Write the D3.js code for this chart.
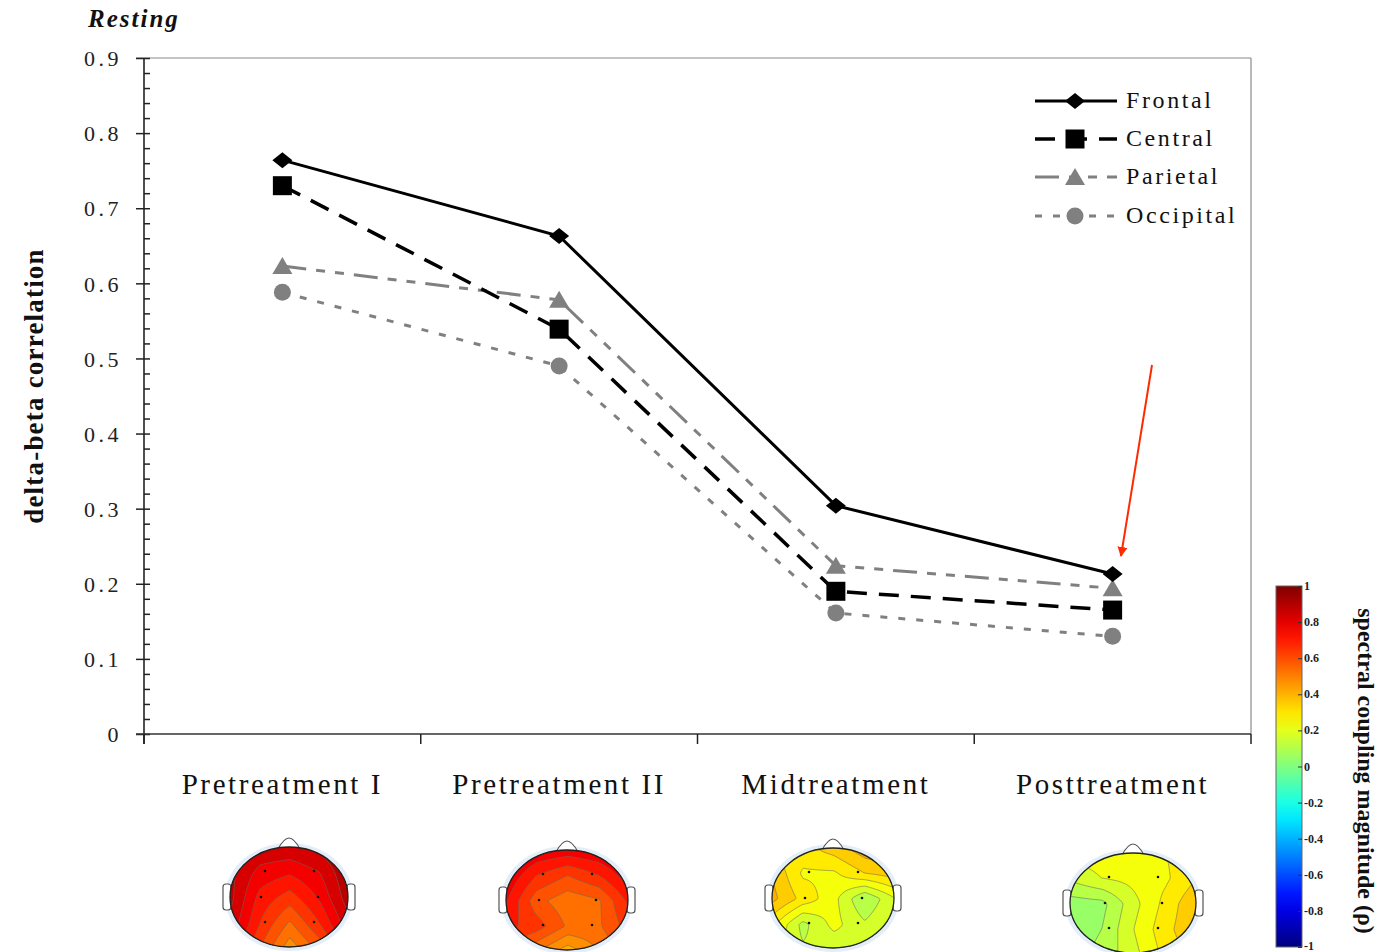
<!DOCTYPE html>
<html><head><meta charset="utf-8">
<script src="https://cdn.jsdelivr.net/npm/d3@7"></script>
<style>body{margin:0;background:#fff}svg{display:block}</style>
</head><body>
<svg id="c" width="1387" height="952"></svg>
<script>
const categories = ["Pretreatment I","Pretreatment II","Midtreatment","Posttreatment"];
const frontal   = [0.764,0.663,0.304,0.213];
const central   = [0.730,0.539,0.190,0.165];
const parietal  = [0.623,0.578,0.224,0.194];
const occipital = [0.588,0.490,0.161,0.130];
const seriesNames = ["Frontal","Central","Parietal","Occipital"];
const yTicks = [0,0.1,0.2,0.3,0.4,0.5,0.6,0.7,0.8,0.9];
const yMinorTicks = d3.range(0,0.9001,0.02);
const colorbarTicks = [1,0.8,0.6,0.4,0.2,0,-0.2,-0.4,-0.6,-0.8,-1];
// 5x5 topographic value grids (rows front->back, cols left->right)
const headPre1 = [[0.90,0.85,0.85,0.88,0.95],[0.88,0.78,0.75,0.80,0.92],[0.88,0.72,0.65,0.75,0.90],[0.85,0.68,0.55,0.68,0.85],[0.80,0.62,0.46,0.58,0.78]];
const headPre2 = [[0.85,0.80,0.78,0.80,0.85],[0.80,0.68,0.62,0.68,0.78],[0.75,0.58,0.52,0.55,0.70],[0.70,0.65,0.55,0.55,0.65],[0.62,0.50,0.40,0.50,0.60]];
const headMid  = [[0.28,0.30,0.35,0.42,0.45],[0.38,0.25,0.25,0.32,0.35],[0.40,0.30,0.22,0.08,0.20],[0.28,0.12,0.22,0.15,0.22],[0.20,0.15,0.15,0.20,0.25]];
const headPost = [[0.22,0.24,0.24,0.26,0.30],[0.15,0.20,0.22,0.25,0.32],[0.05,0.06,0.18,0.28,0.38],[0.04,0.08,0.20,0.30,0.38],[0.05,0.10,0.18,0.28,0.35]];
const headMaps = [headPre1,headPre2,headMid,headPost];

const svg = d3.select("#c");
const serif = "'Liberation Serif','DejaVu Serif',serif";
const x = d3.scaleBand().domain(categories).range([144,1251]);
const y = d3.scaleLinear().domain([0,0.9]).range([734,58]);

// frame
svg.append("line").attr("x1",136).attr("x2",1251).attr("y1",58).attr("y2",58).attr("stroke","#8a8a8a").attr("stroke-width",1.2);
svg.append("line").attr("x1",1251).attr("x2",1251).attr("y1",58).attr("y2",734).attr("stroke","#8a8a8a").attr("stroke-width",1.2);

// y axis
const yAxisG = svg.append("g").attr("transform","translate(144,0)")
  .call(d3.axisLeft(y).tickValues(yTicks).tickSize(8).tickPadding(14).tickFormat(d=>d===0?"0":d.toFixed(1)));
yAxisG.select(".domain").remove();
yAxisG.selectAll(".tick line").attr("stroke","#222").attr("stroke-width",1.5);
yAxisG.selectAll("text").attr("font-family",serif).attr("font-size",22).attr("fill","#222").attr("letter-spacing","3.5px").attr("dy","0.35em");
const yMinorG = svg.append("g").attr("transform","translate(144,0)")
  .call(d3.axisRight(y).tickValues(yMinorTicks).tickSize(6).tickFormat(""));
yMinorG.select(".domain").remove();
yMinorG.selectAll(".tick line").attr("stroke","#222").attr("stroke-width",1.5);
svg.append("line").attr("x1",144).attr("x2",144).attr("y1",58).attr("y2",744).attr("stroke","#222").attr("stroke-width",1.6);

// x axis
svg.append("line").attr("x1",136).attr("x2",1251).attr("y1",734).attr("y2",734).attr("stroke","#333").attr("stroke-width",1.6);
const bounds = categories.map(c=>x(c)).concat([x.range()[1]]);
svg.append("g").selectAll("line").data(bounds).join("line")
  .attr("x1",d=>d).attr("x2",d=>d).attr("y1",734).attr("y2",744).attr("stroke","#222").attr("stroke-width",1.5);
svg.append("g").selectAll("text").data(categories).join("text")
  .attr("x",d=>x(d)+x.bandwidth()/2).attr("y",794).attr("text-anchor","middle")
  .attr("font-family",serif).attr("font-size",29).attr("letter-spacing","2.6px").attr("fill","#111").text(d=>d);

// titles
svg.append("text").attr("x",88).attr("y",27).attr("font-family",serif).attr("font-size",25)
  .attr("font-weight","bold").attr("font-style","italic").attr("letter-spacing","2px").attr("fill","#111").text("Resting");
svg.append("text").attr("transform","translate(43,386) rotate(-90)").attr("text-anchor","middle")
  .attr("font-family",serif).attr("font-size",27).attr("font-weight","bold").attr("letter-spacing","1.2px").attr("fill","#111").text("delta-beta correlation");

// series
const seriesData = [frontal,central,parietal,occipital];
const styles = [
  {color:"#000",dash:null,width:3,marker:"diamond"},
  {color:"#000",dash:"20,12",width:3.5,marker:"square"},
  {color:"#808080",dash:"24,10,9,10,9,10",width:3,marker:"triangle"},
  {color:"#808080",dash:"7,11",width:3,marker:"circle"}
];
function markerPath(type,cx,cy){
  if(type==="diamond") return `M${cx-10},${cy} L${cx},${cy-8} L${cx+10},${cy} L${cx},${cy+8} Z`;
  if(type==="square") return `M${cx-9.5},${cy-9.5} h19 v19 h-19 Z`;
  return `M${cx-10},${cy+8} L${cx},${cy-9} L${cx+10},${cy+8} Z`;
}
function drawMarker(g,type,cx,cy,color){
  if(type==="circle") g.append("circle").attr("cx",cx).attr("cy",cy).attr("r",8.5).attr("fill",color);
  else g.append("path").attr("d",markerPath(type,cx,cy)).attr("fill",color);
}
const line = d3.line().x((d,i)=>x(categories[i])+x.bandwidth()/2).y(d=>y(d));
[3,2,1,0].forEach(k=>{
  const st = styles[k];
  svg.append("path").datum(seriesData[k]).attr("d",line).attr("fill","none")
    .attr("stroke",st.color).attr("stroke-width",st.width).attr("stroke-dasharray",st.dash);
});
[3,2,1,0].forEach(k=>{
  const st = styles[k];
  const g = svg.append("g");
  seriesData[k].forEach((v,i)=>drawMarker(g,st.marker,x(categories[i])+x.bandwidth()/2,y(v),st.color));
});

// legend
const legY = [101,139,177,216];
seriesNames.forEach((n,k)=>{
  const st = styles[k];
  const g = svg.append("g");
  g.append("line").attr("x1",1035).attr("x2",1117).attr("y1",legY[k]).attr("y2",legY[k])
    .attr("stroke",st.color).attr("stroke-width",st.width).attr("stroke-dasharray",st.dash);
  drawMarker(g,st.marker,1075,legY[k],st.color);
  g.append("text").attr("x",1126).attr("y",legY[k]+7).attr("font-family",serif).attr("font-size",24)
    .attr("letter-spacing","2.6px").attr("fill","#111").text(n);
});

// red arrow
svg.append("defs").append("marker").attr("id","ah").attr("viewBox","0 0 10 10").attr("refX",9).attr("refY",5)
  .attr("markerWidth",5).attr("markerHeight",5).attr("orient","auto")
  .append("path").attr("d","M0,0 L10,5 L0,10 Z").attr("fill","#ff2a00");
svg.append("line").attr("x1",1152).attr("y1",365).attr("x2",1121).attr("y2",556)
  .attr("stroke","#ff2a00").attr("stroke-width",2).attr("marker-end","url(#ah)");

// jet colormap
function jet(v){
  const t=(v+1)/2, cl=a=>Math.max(0,Math.min(1,a));
  return d3.rgb(255*cl(1.5-Math.abs(4*t-3)),255*cl(1.5-Math.abs(4*t-2)),255*cl(1.5-Math.abs(4*t-1))).toString();
}

// colorbar
const cbY = d3.scaleLinear().domain([1,-1]).range([586,947]);
const grad = svg.select("defs").append("linearGradient").attr("id","cbg").attr("x1",0).attr("x2",0).attr("y1",0).attr("y2",1);
d3.range(0,1.0001,0.05).forEach(o=>grad.append("stop").attr("offset",o).attr("stop-color",jet(1-2*o)));
svg.append("rect").attr("x",1276).attr("y",586).attr("width",26).attr("height",361).attr("fill","url(#cbg)").attr("stroke","#666").attr("stroke-width",1);
const cbG = svg.append("g").attr("transform","translate(1302,0)")
  .call(d3.axisLeft(cbY).tickValues(colorbarTicks).tickSize(4).tickFormat(""));
cbG.select(".domain").remove();
cbG.selectAll(".tick line").attr("stroke","#333");
svg.append("g").selectAll("text").data(colorbarTicks).join("text")
  .attr("x",1304).attr("y",d=>Math.min(cbY(d)+4,950)).attr("font-family",serif).attr("font-size",12).attr("font-weight","bold")
  .attr("fill","#222").text(d=>d===0?"0":(d===1||d===-1)?String(d):d.toFixed(1));
svg.append("text").attr("transform","translate(1358,771) rotate(90)").attr("text-anchor","middle")
  .attr("font-family",serif).attr("font-size",24).attr("font-weight","bold").attr("fill","#111")
  .text("spectral coupling magnitude (ρ)");

// head maps
const heads = [{cx:289,cy:897,rx:59,ry:50},{cx:567,cy:900,rx:61,ry:50},{cx:833,cy:898,rx:61,ry:50},{cx:1133,cy:903,rx:63,ry:50}];
const W=80,H=66;
const defs = svg.select("defs");
headMaps.forEach((grid,hi)=>{
  const h = heads[hi];
  const vals = new Array(W*H);
  for(let j=0;j<H;j++) for(let i=0;i<W;i++){
    const gx=i/(W-1)*4, gy=j/(H-1)*4;
    const i0=Math.min(3,Math.floor(gx)), j0=Math.min(3,Math.floor(gy));
    const fx=gx-i0, fy=gy-j0;
    const a = grid[j0][i0]*(1-fx)+grid[j0][i0+1]*fx;
    const b = grid[j0+1][i0]*(1-fx)+grid[j0+1][i0+1]*fx;
    vals[j*W+i] = a*(1-fy)+b*fy;
  }
  const step=0.06;
  const th = d3.range(-1,1.0001,step);
  const contours = d3.contours().size([W,H]).thresholds(th)(vals);
  const g = svg.append("g");
  g.append("ellipse").attr("cx",h.cx).attr("cy",h.cy).attr("rx",h.rx+5).attr("ry",h.ry+4).attr("fill","#e4eef9");
  [-1,1].forEach(s=>{
    g.append("rect").attr("x",s<0?h.cx-h.rx-7:h.cx+h.rx-1).attr("y",h.cy-13).attr("width",8).attr("height",26)
      .attr("rx",3).attr("fill","#fff").attr("stroke","#555").attr("stroke-width",1.2);
  });
  g.append("path").attr("d",`M${h.cx-11},${h.cy-h.ry+2} Q${h.cx-5},${h.cy-h.ry-9} ${h.cx},${h.cy-h.ry-9} Q${h.cx+5},${h.cy-h.ry-9} ${h.cx+11},${h.cy-h.ry+2}`)
    .attr("fill","#fff").attr("stroke","#555").attr("stroke-width",1.2);
  defs.append("clipPath").attr("id","hc"+hi).append("ellipse").attr("cx",h.cx).attr("cy",h.cy).attr("rx",h.rx).attr("ry",h.ry);
  const mg = g.append("g").attr("clip-path",`url(#hc${hi})`)
    .append("g").attr("transform",`translate(${h.cx-h.rx-1},${h.cy-h.ry-1}) scale(${(2*h.rx+2)/(W-1)},${(2*h.ry+2)/(H-1)})`);
  mg.selectAll("path").data(contours.filter(c=>c.coordinates.length)).join("path")
    .attr("d",d3.geoPath()).attr("fill",d=>jet(d.value+step/2))
    .attr("stroke","#6a6a5a").attr("stroke-width",0.7).attr("stroke-opacity",0.8).attr("vector-effect","non-scaling-stroke");
  g.append("ellipse").attr("cx",h.cx).attr("cy",h.cy).attr("rx",h.rx).attr("ry",h.ry).attr("fill","none").attr("stroke","#222").attr("stroke-width",1.3);
  [[-24,-26],[25,-26],[-28,0],[29,0],[-24,25],[25,25]].forEach(p=>{
    g.append("circle").attr("cx",h.cx+p[0]).attr("cy",h.cy+p[1]).attr("r",1.3).attr("fill","#111");
  });
});
</script>
</body></html>
